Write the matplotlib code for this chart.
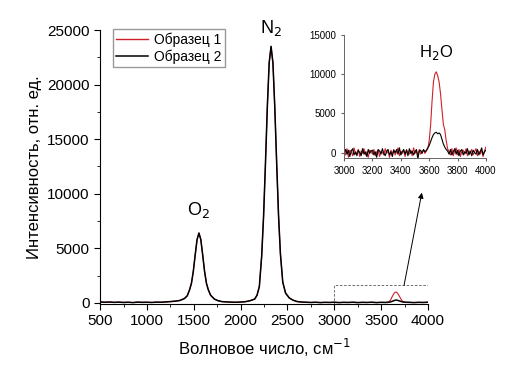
import numpy as np
import matplotlib
matplotlib.use("Agg")
from matplotlib import pyplot as plt
from matplotlib.ticker import MultipleLocator
from matplotlib.patches import Rectangle

plt.rcParams['font.family'] = ['Liberation Sans', 'DejaVu Sans']

# Основной спектр (волновое число, интенсивность)
x_main = [500, 550, 600, 650, 700, 750, 800, 850, 900, 950, 1000, 1050, 1100, 1150,
          1200, 1250, 1300, 1350, 1400, 1430, 1455, 1475, 1495, 1515, 1535, 1555,
          1575, 1595, 1615, 1635, 1655, 1680, 1720, 1760, 1800, 1850, 1900, 1950,
          2000, 2050, 2100, 2150, 2175, 2200, 2225, 2245, 2265, 2285, 2305, 2325,
          2345, 2365, 2385, 2405, 2425, 2450, 2480, 2520, 2560, 2600, 2650, 2700,
          2750, 2800, 2850, 2900, 2950, 3000, 3050, 3100, 3150, 3200, 3250, 3300,
          3350, 3400, 3450, 3500, 3550, 3580, 3600, 3620, 3640, 3655, 3670, 3690,
          3710, 3730, 3760, 3800, 3850, 3900, 3950, 4000]
y_obr2 = [90, 60, 80, 50, 70, 40, 60, 30, 70, 50, 60, 40, 70, 60,
          90, 120, 160, 220, 400, 650, 1200, 1800, 2900, 4400, 5800, 6400,
          5800, 4400, 2900, 1800, 1200, 700, 350, 200, 120, 90, 70, 60,
          80, 110, 200, 350, 700, 1500, 4300, 7900, 12700, 17900, 22000, 23500,
          22000, 17900, 12800, 8000, 4500, 1900, 900, 450, 250, 130, 80, 60,
          40, 60, 30, 50, 40, 60, 30, 50, 40, 60, 30, 50,
          40, 60, 30, 50, 40, 60, 90, 150, 220, 260, 250, 200,
          140, 90, 60, 50, 30, 50, 40, 60]
y_obr1 = [90, 60, 80, 50, 70, 40, 60, 30, 70, 50, 60, 40, 70, 60,
          90, 120, 160, 220, 400, 650, 1200, 1800, 2900, 4400, 5800, 6400,
          5800, 4400, 2900, 1800, 1200, 700, 350, 200, 120, 90, 70, 60,
          80, 110, 200, 350, 700, 1500, 4300, 7900, 12700, 17900, 22000, 23500,
          22000, 17900, 12800, 8000, 4500, 1900, 900, 450, 250, 130, 80, 60,
          40, 60, 30, 50, 40, 60, 30, 50, 40, 60, 30, 50,
          40, 60, 30, 50, 40, 80, 250, 600, 900, 1000, 950, 700,
          380, 130, 60, 50, 30, 50, 40, 60]

# Вставка: область 3000-4000 см-1, шаг 10
x_ins = np.arange(3000, 4001, 10)
y_ins1 = [200, -300, 500, -600, 300, 100, -400, 600, -200, 0,
          400, -500, 200, -100, 500, -300, 100, -600, 300, 200,
          -200, 400, -400, 100, 300, -500, 200, 0, -300, 500,
          -100, 200, -600, 300, -200, 400, -300, 100, 600, -400,
          200, -100, 300, -500, 400, 0, -200, 300, -400, 600,
          -100, 200, -300, 400, -200, 100, 300, -100, 200, 500,
          1500, 3500, 6500, 9000, 10000, 10300, 9800, 9000, 7500, 5500,
          3600, 2900, 1500, 500, 100, -300, 500, -400, 200, 600,
          -300, 400, -500, 100, 300, -200, 500, -400, 200, -100,
          400, -300, 100, 500, -400, 200, -200, 300, -500, 200,
          700]
y_ins2 = [-100, 400, -200, 300, -500, 200, 500, -300, 100, -400,
          300, 0, -400, 500, -200, 100, -500, 400, -100, 200,
          300, -300, 100, -600, 400, 200, -200, 500, -100, -400,
          200, 400, -300, 100, -500, 300, 0, 400, -200, 600,
          -300, 100, 400, -200, 300, -400, 500, -100, 200, -300,
          100, 400, -800, 200, 300, -100, 400, 100, 300, 600,
          900, 1400, 1900, 2300, 2500, 2600, 2400, 2500, 2300, 1700,
          1100, 700, 400, 200, -200, 400, -300, 100, 500, -200,
          300, -400, 200, 400, -300, 100, -100, 500, -300, 200,
          -400, 300, 0, -200, 400, -300, 100, 600, -300, 100,
          300]

red = '#d0202a'

fig = plt.figure(figsize=(5.27, 3.8), dpi=100)
ax = fig.add_axes([0.190, 0.200, 0.622, 0.721])
ax.plot(x_main, y_obr1, color=red, lw=0.8, label='Образец 1')
ax.plot(x_main, y_obr2, color='black', lw=1.1, label='Образец 2')
ax.set_xlim(500, 4000)
ax.set_ylim(-100, 25000)
ax.xaxis.set_major_locator(MultipleLocator(500))
ax.xaxis.set_minor_locator(MultipleLocator(250))
ax.yaxis.set_major_locator(MultipleLocator(5000))
ax.yaxis.set_minor_locator(MultipleLocator(2500))
ax.spines['top'].set_visible(False)
ax.spines['right'].set_visible(False)
ax.tick_params(which='major', direction='out', length=4, labelsize=11)
ax.tick_params(which='minor', direction='out', length=2.5)
ax.set_xlabel('Волновое число, см$^{-1}$', fontsize=12, labelpad=6)
ax.set_ylabel('Интенсивность, отн. ед.', fontsize=12)
leg = ax.legend(loc='upper left', bbox_to_anchor=(0.035, 1.01), fontsize=10,
                frameon=True, fancybox=False, edgecolor='gray', handlelength=2.3,
                borderpad=0.25, labelspacing=0.2, handletextpad=0.4, borderaxespad=0.1)
leg.get_lines()[0].set_linewidth(1.0)

ax.text(1555, 7600, 'O$_2$', fontsize=13, ha='center', va='bottom')
ax.text(2325, 24300, 'N$_2$', fontsize=13, ha='center', va='bottom')

ax.add_patch(Rectangle((3000, -150), 1000, 1750, fill=False, ls=(0, (3, 2)),
                       lw=0.6, edgecolor='#555555'))
ax.annotate('', xy=(3935, 10100), xytext=(3745, 1600),
            arrowprops=dict(arrowstyle='-|>', color='black', lw=0.7,
                            mutation_scale=8, shrinkA=0, shrinkB=0))

ins = fig.add_axes([0.653, 0.584, 0.269, 0.324])
ins.plot(x_ins, y_ins1, color=red, lw=0.8)
ins.plot(x_ins, y_ins2, color='black', lw=0.8)
ins.set_xlim(3000, 4000)
ins.set_ylim(-700, 15000)
ins.xaxis.set_major_locator(MultipleLocator(200))
ins.yaxis.set_major_locator(MultipleLocator(5000))
ins.spines['top'].set_visible(False)
ins.spines['right'].set_visible(False)
for s in ins.spines.values():
    s.set_color('#666666')
    s.set_linewidth(0.7)
ins.tick_params(direction='out', length=2.5, labelsize=7, color='#666666')
ins.text(3650, 11600, 'H$_2$O', fontsize=12, ha='center', va='bottom')

fig.savefig('out.png', dpi=100)
